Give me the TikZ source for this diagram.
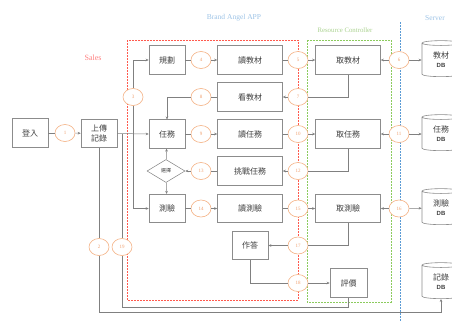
\documentclass[tikz,border=0pt]{standalone}
\usepackage{fontspec}
\setmainfont{Liberation Serif}
\newfontfamily\cjk{Noto Sans CJK TC}
\newfontfamily\dbfont{Liberation Sans}
\usetikzlibrary{shapes.geometric,arrows.meta,shadows}
\definecolor{orng}{HTML}{F4B183}
\definecolor{numtxt}{HTML}{F0A070}
\definecolor{redd}{HTML}{FF5A4E}
\definecolor{grn}{HTML}{8CCB5E}
\definecolor{blu}{HTML}{5B9BD5}
\definecolor{lblu}{HTML}{9DC3E6}
\definecolor{lgrn}{HTML}{A9D18E}
\definecolor{sal}{HTML}{FF8080}
\begin{document}
\begin{tikzpicture}[x=1pt,y=-1pt,
 box/.style={draw=black!45, line width=0.6pt, fill=white, minimum height=28.5pt,
   font=\cjk\fontsize{8}{9.5}\selectfont, text=black!75, inner sep=1pt, align=center,
   drop shadow={shadow xshift=0.7pt, shadow yshift=-0.7pt, fill=black!40, opacity=1}},
 sbox/.style={box, minimum width=36pt},
 wbox/.style={box, minimum width=65pt},
 num/.style={ellipse, draw=orng, line width=0.6pt, fill=white, minimum width=20pt,
   minimum height=17pt, inner sep=0pt, font=\fontsize{5}{6}\selectfont, text=numtxt},
 ln/.style={draw=black!50, line width=0.5pt},
 arr/.style={ln, -{Stealth[length=3pt,width=2.6pt]}},
 db/.style={cylinder, shape border rotate=90, aspect=0.3, draw=black!45, line width=0.6pt,
   fill=white, minimum width=38pt, minimum height=36pt, inner sep=0pt, align=center,
   font=\cjk\fontsize{8}{9}\selectfont, text=black!75},
 lbl/.style={inner sep=0pt, font=\fontsize{7.5}{9}\selectfont}
]
\useasboundingbox (0,0) rectangle (452,322);

% frames
\draw[redd, line width=0.7pt, dash pattern=on 2pt off 1pt] (127,40) rectangle (298,300);
\draw[grn, line width=0.7pt, dash pattern=on 2pt off 1pt] (307,40) rectangle (391,302);
\coordinate (bTop) at (400,22);
\coordinate (bBot) at (400,322);
\draw[blu, line width=0.9pt, dash pattern=on 1.5pt off 1.5pt] (bTop) -- (bBot);

% frame labels
\node[lbl, text=lblu] (tApp) at (234,18) {Brand Angel APP};
\node[lbl, text=lblu] (tServer) at (435,18) {Server};
\node[lbl, text=lgrn, font=\fontsize{6.8}{8}\selectfont] (tRC) at (345,30) {Resource Controller};
\node[lbl, text=sal, font=\fontsize{8}{9}\selectfont] (tSales) at (93,58) {Sales};

% nodes
\node[sbox] (login) at (30,133) {登入};
\node[sbox] (upload) at (99,133.5) {上傳\\記錄};
\node[sbox] (plan) at (167,60) {規劃};
\node[wbox] (readmat) at (250,60) {讀教材};
\node[wbox] (getmat) at (348,60) {取教材};
\node[wbox] (viewmat) at (250,97) {看教材};
\node[sbox] (task) at (167,134) {任務};
\node[wbox] (readtask) at (250,134) {讀任務};
\node[wbox] (gettask) at (348,134) {取任務};
\node[diamond, draw=black!50, line width=0.5pt, fill=white, minimum width=38pt, minimum height=23pt,
      inner sep=0pt, font=\cjk\fontsize{5}{6}\selectfont, text=black!75] (dia) at (166,171) {選擇};
\node[wbox] (challenge) at (250,171) {挑戰任務};
\node[sbox] (quiz) at (167,208.5) {測驗};
\node[wbox] (readquiz) at (250,208.5) {讀測驗};
\node[wbox] (getquiz) at (348,208.5) {取測驗};
\node[sbox] (answer) at (250,245.5) {作答};
\node[sbox, minimum width=37pt] (eval) at (348.5,283) {評價};

\node[db] (dbmat) at (441,60) {教材\\{\dbfont\fontsize{6}{7}\selectfont\bfseries DB}};
\node[db] (dbtask) at (441,134) {任務\\{\dbfont\fontsize{6}{7}\selectfont\bfseries DB}};
\node[db] (dbquiz) at (441,208) {測驗\\{\dbfont\fontsize{6}{7}\selectfont\bfseries DB}};
\node[db] (dbrec) at (441,282) {記錄\\{\dbfont\fontsize{6}{7}\selectfont\bfseries DB}};

% numbered circles
\node[num] (n1) at (65,133) {1};
\node[num] (n2) at (99,247) {2};
\node[num] (n3) at (133,97) {3};
\node[num] (n4) at (201,60) {4};
\node[num] (n5) at (298,60) {5};
\node[num] (n6) at (399,60) {6};
\node[num] (n7) at (298,97) {7};
\node[num] (n8) at (201,97) {8};
\node[num] (n9) at (201,134) {9};
\node[num] (n10) at (298,134) {10};
\node[num] (n11) at (399,134) {11};
\node[num] (n12) at (298,171) {12};
\node[num] (n13) at (201,171) {13};
\node[num] (n14) at (201,208.5) {14};
\node[num] (n15) at (298,208.5) {15};
\node[num] (n16) at (399,208.5) {16};
\node[num] (n17) at (298,245.5) {17};
\node[num] (n18) at (298,283) {18};
\node[num] (n19) at (122,247) {19};

% connectors
\draw[ln] (login) -- (n1);
\draw[arr] (n1) -- (upload);
\draw[arr] (upload.east) -- (task.west);
\draw[ln] (n3) -- (133,134);
\draw[arr] (n3) |- (plan.west);
\draw[arr] (n3) |- (quiz.west);

\draw[ln] (plan) -- (n4);
\draw[arr] (n4) -- (readmat);
\draw[ln] (readmat) -- (n5);
\draw[arr] (n5) -- (getmat);
\draw[arr] (n6) -- (getmat);
\draw[arr] (n6) -- (dbmat);
\draw[ln] (getmat.south) |- (n7);
\draw[arr] (n7) -- (viewmat);
\draw[ln] (viewmat) -- (n8);
\draw[arr] (n8) -| (task.north);

\draw[ln] (task) -- (n9);
\draw[arr] (n9) -- (readtask);
\draw[ln] (readtask) -- (n10);
\draw[arr] (n10) -- (gettask);
\draw[arr] (n11) -- (gettask);
\draw[arr] (n11) -- (dbtask);
\draw[ln] (gettask.south) |- (n12);
\draw[arr] (n12) -- (challenge);
\draw[ln] (challenge) -- (n13);
\draw[arr] (n13) -- (dia);
\draw[arr] (dia) -- (task);
\draw[arr] (dia) -- (quiz);

\draw[ln] (quiz) -- (n14);
\draw[arr] (n14) -- (readquiz);
\draw[ln] (readquiz) -- (n15);
\draw[arr] (n15) -- (getquiz);
\draw[arr] (n16) -- (getquiz);
\draw[arr] (n16) -- (dbquiz);
\draw[ln] (getquiz.south) |- (n17);
\draw[arr] (n17) -- (answer);
\draw[ln] (answer.south) |- (n18);
\draw[arr] (n18) -- (eval);

\coordinate (c2) at (99,312);
\coordinate (c19) at (122,307);
\coordinate (c19t) at (122,133.5);
\draw[ln] (upload.south) -- (n2);
\draw[arr] (n2) -- (c2) -| (dbrec.south);
\draw[ln] (eval.south) |- (c19) -- (n19);
\draw[ln] (n19) -- (c19t);
\end{tikzpicture}
\end{document}
